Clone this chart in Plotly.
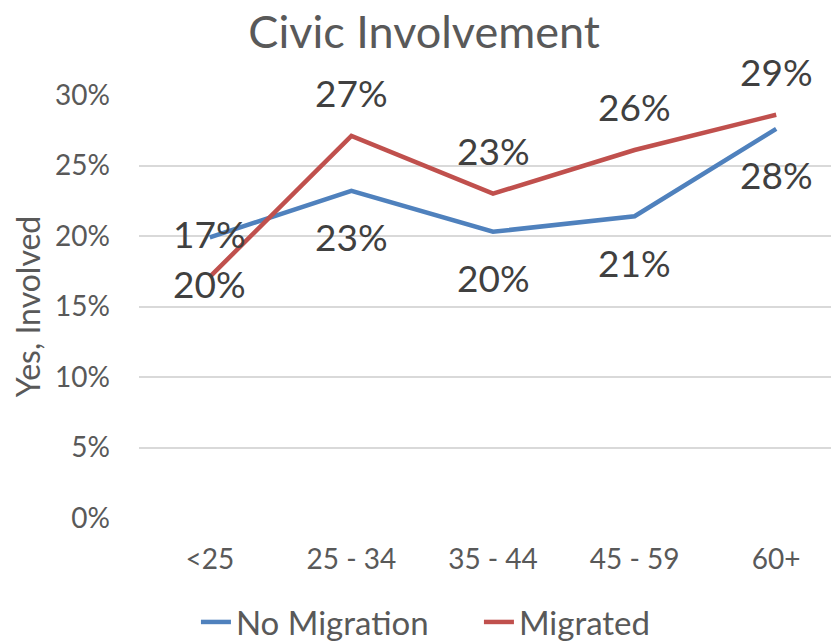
import plotly.graph_objects as go

categories = ["<25", "25 - 34", "35 - 44", "45 - 59", "60+"]
no_migration = [0.199, 0.232, 0.203, 0.214, 0.276]
migrated = [0.171, 0.271, 0.230, 0.261, 0.286]
y_ticks = [0, 0.05, 0.10, 0.15, 0.20, 0.25, 0.30]
y_tick_labels = ["0%", "5%", "10%", "15%", "20%", "25%", "30%"]

FONT = "Lato, 'Open Sans', sans-serif"
LABEL_FONT = dict(family=FONT, size=37, color="#404040")

fig = go.Figure()
fig.add_trace(go.Scatter(
    x=categories, y=no_migration, name="No Migration", mode="lines",
    line=dict(color="#4F81BD", width=4.5), cliponaxis=False,
))
fig.add_trace(go.Scatter(
    x=categories, y=migrated, name="Migrated", mode="lines",
    line=dict(color="#C0504D", width=4.5), cliponaxis=False,
))

annotations = []
for c, v in zip(categories, no_migration):
    annotations.append(dict(x=c, y=v, xref="x", yref="y", text=f"{v:.0%}",
                            showarrow=False, yanchor="middle", yshift=-46,
                            font=LABEL_FONT))
for c, v in zip(categories, migrated):
    annotations.append(dict(x=c, y=v, xref="x", yref="y", text=f"{v:.0%}",
                            showarrow=False, yanchor="middle", yshift=43,
                            font=LABEL_FONT))

fig.update_layout(
    width=839, height=642,
    margin=dict(l=131, r=0, t=87, b=132, autoexpand=False),
    paper_bgcolor="white", plot_bgcolor="white",
    font=dict(family=FONT, color="#595959"),
    title=dict(text="Civic Involvement", x=0.496, xanchor="center",
               y=1 - 24 / 642, yanchor="middle", yref="container",
               font=dict(family=FONT, size=45, color="#595959")),
    showlegend=True,
    legend=dict(orientation="h", x=0.224, xanchor="left", xref="container",
                y=0.0, yanchor="bottom", yref="container",
                font=dict(family=FONT, size=33, color="#595959"),
                entrywidth=238, entrywidthmode="pixels",
                tracegroupgap=0, bgcolor="rgba(0,0,0,0)"),
    xaxis=dict(type="category", range=[-0.5, 4.5], showgrid=False,
               showline=False, zeroline=False, ticks="", automargin=False,
               tickfont=dict(family=FONT, size=28, color="#595959"),
               ticklabelstandoff=22),
    yaxis=dict(range=[0, 0.30], tickvals=y_ticks, ticktext=y_tick_labels,
               showgrid=True, gridcolor="#D9D9D9", gridwidth=1.5,
               zeroline=False, showline=False, ticks="", automargin=False,
               tickfont=dict(family=FONT, size=28, color="#595959"),
               ticklabelstandoff=28,
               title=dict(text="Yes, Involved", standoff=12,
                          font=dict(family=FONT, size=32, color="#595959"))),
    annotations=annotations,
)

fig.write_html("out.html")
